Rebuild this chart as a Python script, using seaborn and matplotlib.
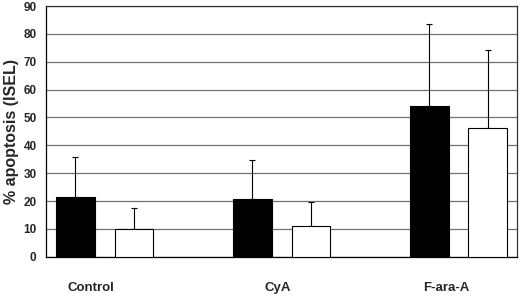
import matplotlib
matplotlib.use("Agg")
import matplotlib.pyplot as plt
import seaborn as sns
import pandas as pd

categories = ["Control", "CyA", "F-ara-A"]
series_names = ["A", "B"]
black_means = [21.3, 20.6, 54.2]
black_sd = [14.4, 14.3, 29.3]
white_means = [10.0, 11.2, 46.2]
white_sd = [7.6, 8.4, 28.0]
y_ticks = [0, 10, 20, 30, 40, 50, 60, 70, 80, 90]

sns.set_theme(style="white")
plt.rcParams['font.family'] = ['Liberation Sans', 'DejaVu Sans']

df = pd.DataFrame({
    "cat": categories * 2,
    "series": [series_names[0]] * 3 + [series_names[1]] * 3,
    "val": black_means + white_means,
})

fig = plt.figure(figsize=(5.2, 3.01), dpi=100)
ax = fig.add_axes([0.089, 0.147, 0.905, 0.833])

sns.barplot(data=df, x="cat", y="val", hue="series", order=categories,
            hue_order=series_names, palette=["black", "white"],
            edgecolor="black", linewidth=0.8, width=0.663, gap=0.34,
            errorbar=None, legend=False, ax=ax, zorder=3)

for cont, sds, means in zip(ax.containers, [black_sd, white_sd], [black_means, white_means]):
    xs = [b.get_x() + b.get_width() / 2 for b in cont]
    ax.errorbar(xs, means, yerr=[[0] * len(sds), sds], fmt="none",
                ecolor="black", elinewidth=0.8, capsize=2.5, capthick=0.8, zorder=2)

ax.set_ylim(0, 90)
ax.set_xlim(-0.33, 2.33)
ax.set_yticks(y_ticks)
# category labels sit slightly left of the group centres in the original
ax.set_xticks([-0.08, 0.98, 1.93])
ax.set_xticklabels(categories)
ax.yaxis.grid(True, color="#707070", linewidth=0.9)
ax.set_axisbelow(True)
for s in ["top", "right", "bottom", "left"]:
    ax.spines[s].set_visible(True)
    ax.spines[s].set_color("#333333")
    ax.spines[s].set_linewidth(0.9)
ax.spines["left"].set_color("black")
ax.spines["bottom"].set_color("black")

ax.tick_params(axis="y", length=0, pad=7, labelsize=8.5)
ax.tick_params(axis="x", length=0, pad=18, labelsize=9.5)
for lab in ax.get_yticklabels() + ax.get_xticklabels():
    lab.set_fontweight("bold")
ax.set_xlabel("")
ax.set_ylabel("% apoptosis (ISEL)", fontsize=11.5, fontweight="bold", labelpad=3)

fig.savefig("out.png", dpi=100, facecolor="white")
